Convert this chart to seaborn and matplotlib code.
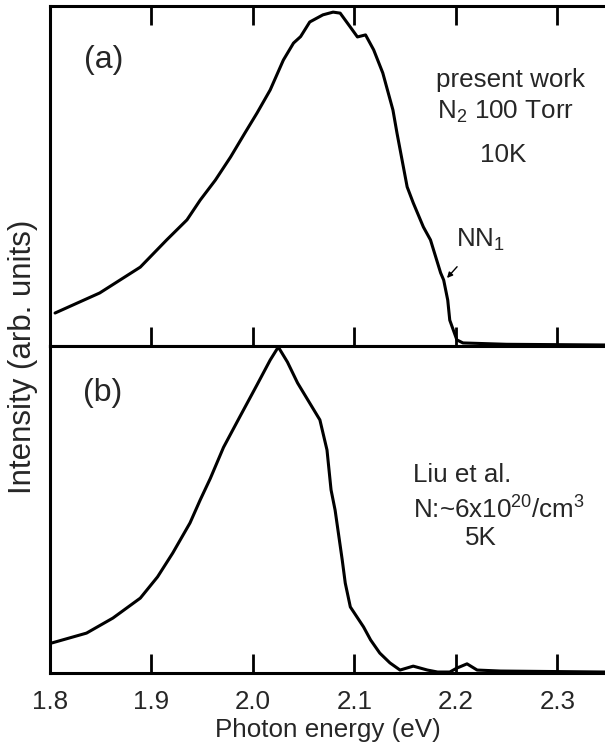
import numpy as np
import pandas as pd
import matplotlib
matplotlib.use("Agg")
import matplotlib.pyplot as plt
import seaborn as sns

# ---- data ----
energy_a = [1.805, 1.849, 1.889, 1.915, 1.935, 1.948, 1.963, 1.978, 1.992, 2.004,
            2.017, 2.030, 2.040, 2.047, 2.056, 2.069, 2.079, 2.086, 2.096, 2.103,
            2.111, 2.119, 2.128, 2.138, 2.142, 2.152, 2.158, 2.168, 2.175, 2.185,
            2.188, 2.192, 2.194, 2.201, 2.207, 2.250, 2.347]
intensity_a = [0.097, 0.156, 0.232, 0.312, 0.371, 0.429, 0.488, 0.556, 0.626, 0.685,
               0.753, 0.841, 0.891, 0.910, 0.953, 0.974, 0.982, 0.979, 0.938, 0.909,
               0.915, 0.871, 0.803, 0.694, 0.626, 0.468, 0.421, 0.350, 0.312, 0.215,
               0.194, 0.135, 0.076, 0.018, 0.009, 0.005, 0.003]

energy_b = [1.802, 1.836, 1.862, 1.889, 1.906, 1.921, 1.938, 1.948, 1.958, 1.971,
            1.987, 2.004, 2.017, 2.025, 2.034, 2.044, 2.066, 2.073, 2.077, 2.081,
            2.088, 2.091, 2.096, 2.109, 2.116, 2.125, 2.135, 2.145, 2.158, 2.172,
            2.182, 2.194, 2.201, 2.211, 2.221, 2.244, 2.347]
intensity_b = [0.092, 0.122, 0.168, 0.229, 0.294, 0.367, 0.459, 0.529, 0.595, 0.690,
               0.783, 0.881, 0.957, 0.997, 0.951, 0.887, 0.774, 0.682, 0.560, 0.498,
               0.346, 0.275, 0.202, 0.141, 0.101, 0.061, 0.031, 0.009, 0.021, 0.009,
               0.003, 0.003, 0.015, 0.028, 0.009, 0.006, 0.003]

x_ticks = [1.8, 1.9, 2.0, 2.1, 2.2, 2.3]
x_tick_labels = ["1.8", "1.9", "2.0", "2.1", "2.2", "2.3"]

sns.set_style("ticks")
plt.rcParams["font.family"] = ["Liberation Sans", "DejaVu Sans"]
plt.rcParams["mathtext.fontset"] = "custom"
plt.rcParams["mathtext.rm"] = "Liberation Sans"
plt.rcParams["mathtext.it"] = "Liberation Sans:italic"

W, H = 605, 744
fig = plt.figure(figsize=(W / 100, H / 100), dpi=100)

left = 50 / W
width = 1 - left
ax_a = fig.add_axes([left, 1 - 346 / H, width, (346 - 6) / H])
ax_b = fig.add_axes([left, 1 - 673 / H, width, (673 - 346) / H])

df_a = pd.DataFrame({"E": energy_a, "I": intensity_a})
df_b = pd.DataFrame({"E": energy_b, "I": intensity_b})

sns.lineplot(data=df_a, x="E", y="I", ax=ax_a, color="black", lw=2.2, sort=False)
sns.lineplot(data=df_b, x="E", y="I", ax=ax_b, color="black", lw=2.2, sort=False)

fs = 18.7
for ax in (ax_a, ax_b):
    ax.set_xlim(1.8, 2.347)
    ax.set_ylim(0, 1.0)
    ax.set_yticks([])
    ax.set_xticks(x_ticks)
    ax.set_xlabel("")
    ax.set_ylabel("")
    for s in ("left", "top", "bottom"):
        ax.spines[s].set_linewidth(2.2)
        ax.spines[s].set_color("black")
    ax.spines["right"].set_visible(False)
    ax.tick_params(axis="x", direction="in", length=13.5, width=2.0, color="black")

ax_a.tick_params(axis="x", top=True, bottom=True, labelbottom=False)
ax_b.tick_params(axis="x", top=False, bottom=True, labelbottom=True,
                 labelsize=fs, pad=12)
ax_b.set_xticklabels(x_tick_labels)
ax_b.set_xlabel("Photon energy (eV)", fontsize=fs, labelpad=3)

fig.text(23 / W, 1 - 357 / H, "Intensity (arb. units)", rotation=90,
         ha="center", va="center", fontsize=22.5)

# panel (a) annotations
ax_a.text(104 / W, 1 - 60 / H, "(a)", transform=fig.transFigure,
          ha="center", va="center", fontsize=23)
ax_a.text(510 / W, 1 - 80 / H, "present work", transform=fig.transFigure,
          ha="center", va="center", fontsize=fs)
ax_a.text(505 / W, 1 - 112 / H, r"N$_\mathregular{2}$ 100 Torr", transform=fig.transFigure,
          ha="center", va="center", fontsize=fs)
ax_a.text(503 / W, 1 - 155 / H, "10K", transform=fig.transFigure,
          ha="center", va="center", fontsize=fs)
ax_a.annotate(r"NN$_\mathregular{1}$", xy=(447 / W, 1 - 278 / H), xycoords="figure fraction",
              xytext=(481 / W, 1 - 240 / H), textcoords="figure fraction",
              ha="center", va="center", fontsize=fs,
              arrowprops=dict(arrowstyle="-|>", color="black", lw=1.0,
                              shrinkA=10, shrinkB=0, mutation_scale=8))

# panel (b) annotations
ax_b.text(103 / W, 1 - 393 / H, "(b)", transform=fig.transFigure,
          ha="center", va="center", fontsize=23)
ax_b.text(413 / W, 1 - 475 / H, "Liu et al.", transform=fig.transFigure,
          ha="left", va="center", fontsize=fs)
ax_b.text(413 / W, 1 - 510 / H, r"N:~6x10$^\mathregular{20}$/cm$^\mathregular{3}$",
          transform=fig.transFigure, ha="left", va="center", fontsize=fs)
ax_b.text(481 / W, 1 - 538 / H, "5K", transform=fig.transFigure,
          ha="center", va="center", fontsize=fs)

fig.savefig("out.png", dpi=100)
